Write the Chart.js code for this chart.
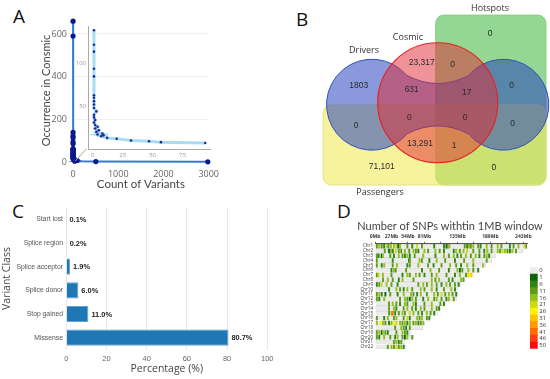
<!DOCTYPE html>
<html>
<head>
<meta charset="utf-8">
<script src="https://cdn.jsdelivr.net/npm/chart.js@4.4.1/dist/chart.umd.min.js"></script>
<style>
body { margin: 0; background: #fff; }
#fig { position: relative; width: 550px; height: 379px; overflow: hidden; font-family: "Open Sans", sans-serif; }
canvas { position: absolute; }
.tag { position: absolute; font-size: 19px; line-height: 1; color: #111; }
</style>
</head>
<body>
<div id="fig">
  <div class="tag" style="left:13px;top:7px">A</div>
  <div class="tag" style="left:296px;top:10px">B</div>
  <div class="tag" style="left:12px;top:202px">C</div>
  <div class="tag" style="left:337px;top:202px">D</div>
  <canvas id="aMain" width="190" height="196" style="left:36px;top:0"></canvas>
  <canvas id="aInset" width="150" height="150" style="left:70px;top:16px"></canvas>
  <canvas id="venn" width="260" height="200" style="left:290px;top:0"></canvas>
  <canvas id="classes" width="278" height="179" style="left:0;top:200px"></canvas>
  <canvas id="snps" width="190" height="140" style="left:355px;top:214px"></canvas>
  <canvas id="snpKey" width="28" height="92" style="left:522px;top:262px"></canvas>
</div>
<script>
"use strict";

// A: occurrence in Cosmic vs number of variants
const occurrence = [660, 590, 139, 122, 114, 94, 85, 63, 60, 56, 52, 48, 44, 40, 37, 34, 31, 28, 26, 24, 22, 20, 18, 17, 16, 15, 13, 12, 10, 9, 8, 7, 4, 2, 1];
const variantCount = [1, 1, 1, 1, 1, 1, 1, 1, 1, 1, 1, 1, 3, 1, 1, 2, 1, 2, 4, 2, 5, 3, 8, 4, 9, 7, 12, 20, 32, 47, 57, 94, 40, 505, 2980];

// B: venn regions
const vennSets = ["Drivers", "Cosmic", "Hotspots", "Passengers"];
const vennCounts = [1803, 23317, 0, 0, 631, 17, 0, 0, 0, 0, 0, 13291, 1, 71101, 0];

// C: variant classes
const variantClasses = ["Start lost", "Splice region", "Splice acceptor", "Splice donor", "Stop gained", "Missense"];
const classPercent = [0.1, 0.2, 1.9, 6.0, 11.0, 80.7];

// D: SNPs per 1MB window
const chromosomes = ["Chr1", "Chr2", "Chr3", "Chr4", "Chr5", "Chr6", "Chr7", "Chr8", "Chr9", "Chr10", "Chr11",
  "Chr12", "Chr13", "Chr14", "Chr15", "Chr16", "Chr17", "Chr18", "Chr19", "Chr20", "Chr21", "Chr22"];
const chrLengthMb = [249, 243, 198, 191, 181, 171, 159, 146, 141, 136, 135, 134, 115, 107, 102, 90, 81, 78, 59, 63, 48, 51];
const mbTicks = [0, 27, 54, 81, 108, 135, 162, 189, 216, 243];
const mbLabels = [0, 27, 54, 81, 135, 189, 243];
const legendBins = [0, 1, 6, 11, 16, 21, 26, 31, 36, 41, 46, 50];
const binColors = ["#ececec", "#0b650b", "#2c860f", "#5b9c14", "#93bf1c", "#c9d912", "#fff200",
  "#ffc600", "#ff9a00", "#ff6c00", "#ff3c14", "#ff0a0a"];
// [Mb, count] per chromosome
const snpWindows = [
  [[2,11],[6,16],[10,11],[14,6],[18,21],[21,11],[25,16],[30,16],[34,21],[37,1],[40,16],[52,11],[60,6],[68,21],[76,11],[96,6],[112,6],[116,1],[118,11],[121,16],[146,11],[150,6],[153,16],[156,11],[160,16],[168,11],[172,6],[182,16],[190,11],[200,16],[206,11],[220,6],[226,11],[234,16],[244,21],[247,11]],
  [[15,11],[22,1],[25,16],[28,6],[33,21],[38,11],[42,11],[48,16],[55,11],[62,16],[66,11],[70,6],[80,16],[86,11],[98,16],[105,11],[112,6],[128,6],[132,16],[138,11],[144,16],[150,21],[160,11],[170,11],[178,6],[183,16],[190,11],[200,16],[204,11],[208,21],[212,16],[216,11],[220,6],[224,16],[230,11]],
  [[2,11],[5,6],[10,1],[12,16],[24,11],[30,6],[38,16],[44,11],[48,6],[52,16],[56,6],[64,11],[78,16],[98,6],[112,16],[120,11],[128,16],[134,6],[140,11],[148,16],[156,11],[164,16],[170,6],[178,11],[182,16],[186,6]],
  [[2,11],[28,6],[55,1],[56,11],[72,16],[76,11],[88,6],[100,16],[114,11],[130,6],[145,11],[160,16],[182,11]],
  [[2,11],[10,6],[14,16],[28,11],[35,16],[52,6],[56,11],[70,16],[86,11],[95,6],[108,11],[122,16],[132,11],[140,6],[150,16],[160,11],[176,16]],
  [[26,6],[30,16],[33,11],[50,11],[76,6],[90,16],[104,11],[120,6],[134,16],[138,1],[142,11],[152,16],[160,11],[168,6]],
  [[2,11],[5,21],[12,16],[26,11],[44,6],[52,16],[56,11],[66,16],[72,11],[80,6],[92,11],[100,16],[116,11],[130,6],[138,16],[148,11],[152,21],[154,26],[157,31]],
  [[12,11],[20,16],[28,11],[38,6],[44,16],[62,11],[92,16],[98,11],[104,16],[120,11],[126,6],[140,16],[144,11]],
  [[2,6],[6,11],[10,21],[18,16],[26,11],[36,6],[70,11],[78,16],[84,11],[92,16],[100,11],[108,6],[116,16],[122,11],[130,11],[136,6]],
  [[22,6],[34,16],[40,11],[46,6],[52,16],[60,11],[74,16],[80,11],[92,16],[100,6],[112,11],[124,16],[130,6]],
  [[2,11],[6,16],[10,6],[16,1],[24,11],[36,6],[46,16],[58,16],[62,11],[68,6],[74,16],[84,11],[96,16],[102,11],[108,21],[114,11],[120,16],[126,11],[132,6]],
  [[2,11],[6,6],[14,16],[40,11],[48,16],[52,11],[56,1],[60,16],[66,11],[78,6],[86,16],[96,11],[100,16],[108,11],[116,6],[120,16],[128,11]],
  [[22,11],[28,16],[34,11],[40,6],[48,16],[52,11],[62,16],[66,6],[80,11],[92,16],[106,11],[112,6]],
  [[22,11],[30,16],[34,6],[46,11],[52,16],[60,11],[66,6],[74,16],[80,11],[92,16],[100,11],[104,6]],
  [[22,11],[26,16],[28,41],[32,6],[38,11],[44,16],[48,11],[56,21],[62,16],[70,11],[76,6],[84,16],[90,11],[96,6]],
  [[2,11],[14,6],[20,16],[30,11],[34,16],[46,11],[52,21],[56,6],[68,16],[72,11],[76,16],[84,11],[88,6]],
  [[2,16],[8,26],[12,16],[16,11],[22,6],[26,16],[30,26],[34,21],[40,16],[44,11],[48,16],[52,6],[56,16],[62,11],[66,16],[70,6],[74,11],[78,16]],
  [[32,11],[42,16],[46,11],[50,6],[56,11]],
  [[2,11],[6,16],[10,1],[12,16],[16,11],[20,6],[34,11],[44,16],[48,11],[52,6]],
  [[2,11],[6,6],[14,16],[24,11],[32,6],[36,16],[44,11],[48,1],[52,16],[60,11]],
  [[30,11],[34,16],[38,6],[42,11]],
  [[20,11],[26,16],[30,11],[34,21],[38,11],[42,16],[46,6]]
];

Chart.defaults.font.family = "'Open Sans', sans-serif";
Chart.defaults.animation = false;
Chart.defaults.responsive = false;
Chart.defaults.plugins.legend.display = false;
Chart.defaults.plugins.tooltip.enabled = false;

// force an axis to a fixed thickness so the plot areas land where they should
const sized = w => s => { if (s.isHorizontal()) s.height = w; else s.width = w; };
const keepTicks = list => s => { s.ticks = list.map(v => ({ value: v })); };
const noGrid = { display: false, drawTicks: false };

// ---------- A ----------
const aPoints = occurrence.map((o, i) => ({ x: variantCount[i], y: o }));

const zoomLine = {
  id: "zoomLine",
  afterDatasetsDraw(chart) {
    const { ctx, scales: { x, y } } = chart;
    ctx.save();
    ctx.strokeStyle = "#aaa";
    ctx.lineWidth = 1;
    ctx.beginPath();
    ctx.moveTo(x.getPixelForValue(50), y.getPixelForValue(5));
    ctx.lineTo(x.getPixelForValue(300), y.getPixelForValue(62));
    ctx.stroke();
    ctx.restore();
  }
};

new Chart("aMain", {
  type: "line",
  data: {
    datasets: [{
      data: aPoints,
      borderColor: "#3b7bcb",
      borderWidth: 2,
      pointRadius: 2.6,
      pointBackgroundColor: "#0a1a8a",
      pointBorderWidth: 0,
      clip: false
    }]
  },
  options: {
    layout: { padding: { left: 0, top: 19, right: 12, bottom: 0 } },
    scales: {
      x: {
        type: "linear", min: 0, max: 3000, afterFit: sized(34), afterBuildTicks: keepTicks([0, 1000, 2000, 3000]),
        grid: noGrid, border: { display: false },
        ticks: { padding: 7, color: "#666", font: { size: 9 }, callback: v => String(v) },
        title: { display: true, text: "Count of Variants", color: "#444", font: { size: 11.5, family: "Lato, sans-serif" }, padding: { top: 0, bottom: 5 } }
      },
      y: {
        min: 0, max: 670, afterFit: sized(37), afterBuildTicks: keepTicks([0, 200, 400, 600]),
        grid: { color: "#f2f2f2", drawTicks: false }, border: { display: false },
        ticks: { padding: 6, color: "#666", font: { size: 9 } },
        title: { display: true, text: "Occurrence in Consmic", color: "#444", font: { size: 11, family: "Lato, sans-serif" }, padding: { top: 4, bottom: 0 } }
      }
    }
  },
  plugins: [zoomLine]
});

new Chart("aInset", {
  type: "line",
  data: {
    datasets: [{
      data: aPoints.filter(p => p.x <= 98 && p.y >= 7 && p.y <= 145),
      borderColor: "#a9dcf4",
      borderWidth: 3,
      pointRadius: 1.3,
      pointBackgroundColor: "#1a2a9c",
      pointBorderWidth: 0,
      clip: false
    }]
  },
  options: {
    layout: { padding: { left: 0, top: 10, right: 10, bottom: 0 } },
    scales: {
      x: {
        type: "linear", min: -4, max: 98, afterFit: sized(17), afterBuildTicks: keepTicks([0, 25, 50, 75]),
        grid: noGrid, border: { display: true, color: "#aaa" },
        ticks: { padding: 3, color: "#999", font: { size: 6 } }
      },
      y: {
        min: 0, max: 144, afterFit: sized(18), afterBuildTicks: keepTicks([50, 100]),
        grid: noGrid, border: { display: true, color: "#aaa" },
        ticks: { padding: 2, color: "#999", font: { size: 6 } }
      }
    }
  }
});

// ---------- B ----------
// geometry in units of the Cosmic circle radius, Cosmic centred on (0,0)
const vennLabelX = [-1.317, -0.267, 0.25, 0.872, -0.433, 0.483, 1.233, -1.362, -0.473, 0.455, 1.25, -0.295, 0.272, -0.933, 0.938];
const vennLabelY = [0.278, 0.662, 0.628, 1.145, 0.212, 0.167, 0.278, -0.388, -0.255, -0.255, -0.355, -0.688, -0.722, -1.067, -1.083];
const setLabelX = [-1.228, -0.495, 0.872, -0.962];
const setLabelY = [0.878, 1.095, 1.578, -1.488];

const vennShapes = {
  id: "vennShapes",
  beforeDatasetsDraw(chart) {
    const { ctx, scales: { x, y } } = chart;
    const X = v => x.getPixelForValue(v), Y = v => y.getPixelForValue(v);
    const R = r => x.getPixelForValue(r) - x.getPixelForValue(0);
    const deg = Math.PI / 180;

    function roundRect(x0, y0, x1, y1, rad) {
      const l = X(x0), r = X(x1), t = Y(y1), b = Y(y0);
      ctx.beginPath();
      ctx.moveTo(l + rad, t);
      ctx.arcTo(r, t, r, b, rad);
      ctx.arcTo(r, b, l, b, rad);
      ctx.arcTo(l, b, l, t, rad);
      ctx.arcTo(l, t, r, t, rad);
      ctx.closePath();
    }
    function dumbbell() {
      const cy = -0.033, cx = 1.095, r = 0.758, a = 40 * deg;
      const px = r * Math.cos(a), py = r * Math.sin(a);
      ctx.beginPath();
      ctx.arc(X(-cx), Y(cy), R(r), -a, a, true);
      ctx.quadraticCurveTo(X(0), Y(cy - 0.22), X(cx - px), Y(cy - py));
      ctx.arc(X(cx), Y(cy), R(r), Math.PI - a, Math.PI + a, true);
      ctx.quadraticCurveTo(X(0), Y(cy + 0.22), X(-cx + px), Y(cy + py));
      ctx.closePath();
    }
    function cosmic() {
      ctx.beginPath();
      ctx.arc(X(0), Y(0), R(1), 0, 2 * Math.PI);
    }

    ctx.save();
    roundRect(-0.033, -1.37, 1.805, 1.46, 8);
    ctx.fillStyle = "rgba(60,180,60,0.55)"; ctx.fill();
    ctx.strokeStyle = "#86cf80"; ctx.lineWidth = 1; ctx.stroke();

    roundRect(-1.91, -1.37, 1.805, -0.038, 8);
    ctx.fillStyle = "rgba(240,235,90,0.6)"; ctx.fill();
    ctx.strokeStyle = "#e6e27a"; ctx.stroke();

    dumbbell();
    ctx.fillStyle = "rgba(40,70,190,0.55)"; ctx.fill();
    ctx.strokeStyle = "#3552b8"; ctx.stroke();

    cosmic();
    ctx.fillStyle = "rgba(225,40,50,0.5)"; ctx.fill();
    ctx.strokeStyle = "#e02525"; ctx.lineWidth = 1.2; ctx.stroke();

    ctx.textAlign = "center";
    ctx.textBaseline = "middle";
    ctx.fillStyle = "#2b2b2b";
    ctx.font = "8.5px 'Liberation Sans', Arial, sans-serif";
    vennCounts.forEach((n, i) => {
      const txt = n >= 10000 ? n.toLocaleString("en-US") : String(n);
      ctx.fillText(txt, X(vennLabelX[i]), Y(vennLabelY[i]));
    });
    ctx.fillStyle = "#333";
    ctx.font = "9px 'Open Sans', sans-serif";
    vennSets.forEach((s, i) => ctx.fillText(s, X(setLabelX[i]), Y(setLabelY[i])));
    ctx.restore();
  }
};

new Chart("venn", {
  type: "scatter",
  data: { datasets: [{ data: vennLabelX.map((v, i) => ({ x: v, y: vennLabelY[i] })), pointRadius: 0 }] },
  options: {
    layout: { padding: 0 },
    scales: {
      x: { display: false, min: -2.462, max: 1.872 },
      y: { display: false, min: -1.621, max: 1.712 }
    }
  },
  plugins: [vennShapes]
});

// ---------- C ----------
const barValues = {
  id: "barValues",
  afterDatasetsDraw(chart) {
    const { ctx } = chart;
    ctx.save();
    ctx.font = "bold 7.4px 'Liberation Sans', Arial, sans-serif";
    ctx.fillStyle = "#222";
    ctx.textBaseline = "middle";
    chart.getDatasetMeta(0).data.forEach((bar, i) => {
      ctx.fillText(classPercent[i].toFixed(1) + "%", bar.x + 3, bar.y + 0.5);
    });
    ctx.restore();
  }
};

new Chart("classes", {
  type: "bar",
  data: {
    labels: variantClasses,
    datasets: [{
      data: classPercent,
      backgroundColor: "#1f77b4",
      borderColor: "#62a1d4",
      borderWidth: 1,
      barPercentage: 0.68,
      categoryPercentage: 1
    }]
  },
  options: {
    indexAxis: "y",
    layout: { padding: { left: 0, top: 7.5, right: 10.3, bottom: 0 } },
    scales: {
      x: {
        min: 0, max: 100, afterFit: sized(29.5),
        grid: { color: "#e8e8e8", drawTicks: false }, border: { display: false },
        ticks: { stepSize: 20, padding: 4.5, color: "#666", font: { size: 7.5, family: "'Liberation Sans', Arial, sans-serif" } },
        title: { display: true, text: "Percentage (%)", color: "#444", font: { size: 10.5 }, padding: { top: 0, bottom: 3.5 } }
      },
      y: {
        afterFit: sized(66.3),
        grid: noGrid, border: { display: false },
        ticks: { padding: 3.3, autoSkip: false, color: "#555", font: { size: 6.8, family: "'Liberation Sans', Arial, sans-serif" } },
        title: { display: true, text: "Variant Class", color: "#444", font: { size: 10.5 }, padding: { top: 1, bottom: 0 } }
      }
    }
  },
  plugins: [barValues]
});

// ---------- D ----------
const binColor = n => {
  let k = 0;
  legendBins.forEach((b, i) => { if (n >= b) k = i; });
  return binColors[k];
};
const snpBars = [];
snpWindows.forEach((list, i) => list.forEach(([mb, n]) => snpBars.push({ y: chromosomes[i], x: [mb, mb + 2], n })));

new Chart("snps", {
  type: "bar",
  data: {
    labels: chromosomes,
    datasets: [
      {
        data: snpBars,
        backgroundColor: c => (c.raw ? binColor(c.raw.n) : "#ccc"),
        barThickness: 3.8,
        grouped: false,
        order: 0
      },
      {
        data: chrLengthMb,
        backgroundColor: "#ebebeb",
        borderColor: "#d2d2d2",
        borderWidth: 0.5,
        barThickness: 3.8,
        grouped: false,
        order: 1
      }
    ]
  },
  options: {
    indexAxis: "y",
    layout: { padding: { left: 0, top: 0, right: 0, bottom: 2.6 } },
    plugins: {
      title: {
        display: true, text: "Number of SNPs withtin 1MB window", color: "#444",
        font: { size: 11, family: "Lato, sans-serif", weight: "normal" }, padding: { top: 5.5, bottom: 1.5 }
      }
    },
    scales: {
      x: {
        position: "top", min: 0, max: 249, afterFit: sized(9.6), afterBuildTicks: keepTicks(mbTicks),
        grid: { drawOnChartArea: false, drawTicks: true, tickLength: 2, color: "#666" },
        border: { display: true, color: "#555" },
        ticks: {
          autoSkip: false, maxRotation: 0, padding: 2.3, color: "#333",
          font: { size: 5, weight: "bold" },
          callback: v => (mbLabels.includes(v) ? v + "Mb" : "")
        }
      },
      y: {
        afterFit: sized(20),
        grid: noGrid, border: { display: false },
        ticks: { autoSkip: false, padding: 2, color: "#333", font: { size: 4.5 } }
      },
      // empty right-hand strip so the title centres over the whole panel
      yRight: {
        type: "category", position: "right", afterFit: sized(18),
        grid: noGrid, border: { display: false }, ticks: { display: false }
      }
    }
  }
});

new Chart("snpKey", {
  type: "bar",
  data: {
    labels: legendBins.map(String),
    datasets: [{ data: legendBins.map(() => 1), backgroundColor: binColors, barPercentage: 1, categoryPercentage: 1 }]
  },
  options: {
    indexAxis: "y",
    layout: { padding: { left: 8, top: 4.5, right: 0, bottom: 4.5 } },
    scales: {
      x: { display: false, min: 0, max: 1 },
      y: {
        position: "right", afterFit: sized(12.3),
        grid: noGrid, border: { display: false },
        ticks: { autoSkip: false, padding: 1.6, color: "#333", font: { size: 6 } }
      }
    }
  }
});
</script>
</body>
</html>
